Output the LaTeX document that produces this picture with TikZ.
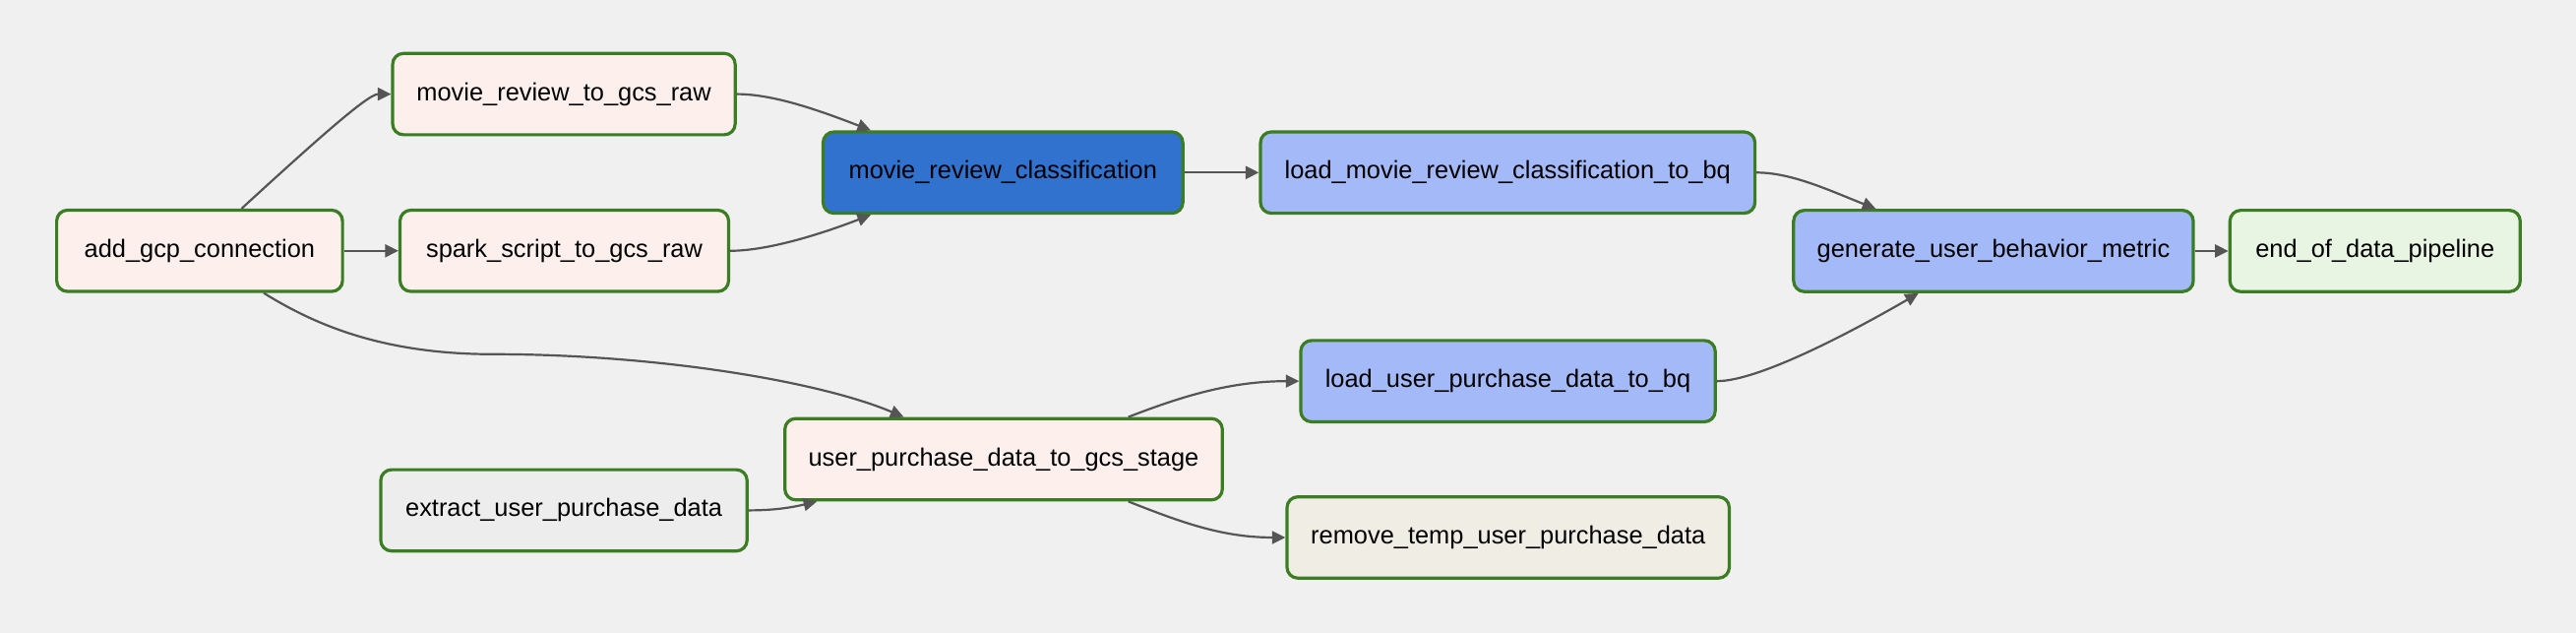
\documentclass[tikz,border=0pt]{standalone}
\usepackage{fontspec}
\setmainfont{Liberation Sans}
\usetikzlibrary{arrows.meta,calc}
\definecolor{bgcol}{HTML}{F0F0F0}
\definecolor{bordergreen}{RGB}{59,125,35}
\definecolor{pinkfill}{HTML}{FDF0EC}
\definecolor{bluelight}{HTML}{A4B9F7}
\definecolor{bluedark}{HTML}{3172CE}
\definecolor{greenlight}{HTML}{E9F5E3}
\definecolor{grayfill}{HTML}{EDEDED}
\definecolor{beigefill}{HTML}{F0EDE4}
\definecolor{edgegray}{HTML}{555555}
\newcommand\upx{0.8348pt}
\begin{document}
\begin{tikzpicture}[x=0.8348pt,y=-0.8348pt,
  box/.style={draw=bordergreen, line width=1.6pt, rounded corners=5.5pt, minimum height=41.3pt, inner sep=0pt, font=\fontsize{12.7}{15}\selectfont, text=black},
  edge/.style={draw=edgegray, line width=1.1pt, -{Triangle[length=6.8pt,width=6.5pt]}}]
\fill[bgcol] (0,0) rectangle (1568,385);
\useasboundingbox (0,0) rectangle (1568,385);

\node[box, fill=pinkfill, minimum width=174*\upx] (gcp) at (121.5,152.6) {add\_gcp\_connection};
\node[box, fill=pinkfill, minimum width=208.5*\upx] (mrraw) at (343.25,57.25) {movie\_review\_to\_gcs\_raw};
\node[box, fill=pinkfill, minimum width=200*\upx] (spark) at (343.5,152.6) {spark\_script\_to\_gcs\_raw};
\node[box, fill=bluedark, minimum width=219*\upx] (mrc) at (610.5,105) {movie\_review\_classification};
\node[box, fill=bluelight, minimum width=301*\upx] (lmrc) at (917.75,105) {load\_movie\_review\_classification\_to\_bq};
\node[box, fill=bluelight, minimum width=243.3*\upx] (gen) at (1213.4,152.7) {generate\_user\_behavior\_metric};
\node[box, fill=greenlight, minimum width=176.7*\upx] (end) at (1445.7,152.7) {end\_of\_data\_pipeline};
\node[box, fill=bluelight, minimum width=252.3*\upx] (lupd) at (917.9,231.9) {load\_user\_purchase\_data\_to\_bq};
\node[box, fill=pinkfill, minimum width=266.3*\upx] (upgcs) at (610.9,279.4) {user\_purchase\_data\_to\_gcs\_stage};
\node[box, fill=grayfill, minimum width=223*\upx] (extract) at (343.25,310.5) {extract\_user\_purchase\_data};
\node[box, fill=beigefill, minimum width=269.2*\upx] (remove) at (918,327) {remove\_temp\_user\_purchase\_data};

\coordinate (via) at (300,215.5);

% edges
\draw[edge] ($(gcp.north west)+(113.5,0)$) .. controls +(47,-43) and +(-14,0) .. (mrraw.west);
\draw[edge] (gcp.east) -- (spark.west);
\draw[edge] ($(gcp.south west)+(127,0)$) .. controls +(28.4,17.5) and +(-70,0) .. (via)
   .. controls +(100,0) and +(-51,-21.6) .. ($(upgcs.north west)+(73.3,0)$);
\draw[edge] (mrraw.east) .. controls +(22.5,0) and +(-31,-12) .. ($(mrc.north west)+(30,0)$);
\draw[edge] (spark.east) .. controls +(22.5,0) and +(-31,12) .. ($(mrc.south west)+(30,0)$);
\draw[edge] (mrc.east) -- (lmrc.west);
\draw[edge] (lmrc.east) .. controls +(21.5,0) and +(-28,-11) .. ($(gen.north west)+(51,0)$);
\draw[edge] (lupd.east) .. controls +(26,0) and +(-38.5,22.3) .. ($(gen.south west)+(77,0)$);
\draw[edge] (gen.east) -- (end.west);
\draw[edge] ($(upgcs.north west)+(210,0)$) .. controls +(32.5,-12.6) and +(-41.7,0) .. (lupd.west);
\draw[edge] ($(upgcs.south west)+(210,0)$) .. controls +(32.5,12.8) and +(-38.4,0) .. (remove.west);
\draw[edge] (extract.east) .. controls +(15,0) and +(-16,3.8) .. ($(upgcs.south west)+(20.5,0)$);
\end{tikzpicture}
\end{document}
